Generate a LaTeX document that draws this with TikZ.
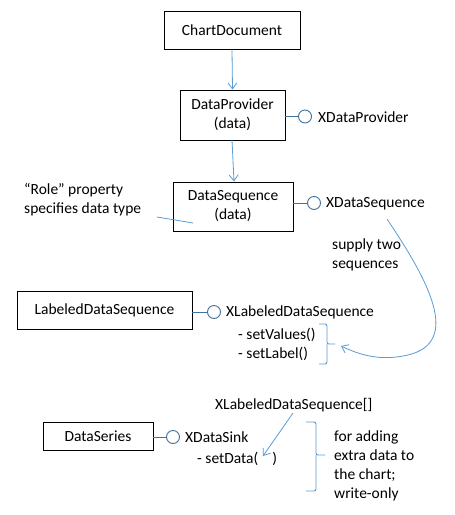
\documentclass[tikz,border=0pt]{standalone}
\usepackage{fontspec}
\setmainfont{Carlito}
\usetikzlibrary{arrows.meta}
\definecolor{lnblue}{HTML}{5B9BD5}
\definecolor{lolli}{HTML}{41719C}
\begin{document}
\begin{tikzpicture}[x=1pt,y=-1pt,
  every node/.style={font=\fontsize{15.5}{19}\selectfont},
  box/.style={draw=black,line width=0.9pt,align=center,inner sep=0pt},
  lbl/.style={anchor=west,inner sep=0pt,align=left},
  iface/.style={draw=lolli,line width=0.9pt,circle,minimum size=13pt,inner sep=0pt},
  stick/.style={draw=lolli,line width=0.9pt},
  arr/.style={draw=lnblue,line width=0.8pt,-{Straight Barb[length=6pt,width=9pt]}},
  thin/.style={draw=lnblue,line width=0.8pt},
  brc/.style={draw=lnblue,line width=0.9pt,rounded corners=2pt}]
\path[use as bounding box,fill=white] (0,0) rectangle (455,515);
% boxes
\node[box,minimum width=136pt,minimum height=38pt] (cd) at (232,30) {ChartDocument};
\node[box,minimum width=105pt,minimum height=50pt] (dp) at (232.5,115) {DataProvider\\(data)};
\node[box,minimum width=120pt,minimum height=49pt] (ds) at (233,206.5) {DataSequence\\(data)};
\node[box,minimum width=175pt,minimum height=38pt] (lds) at (104.5,310) {LabeledDataSequence};
\node[box,minimum width=110pt,minimum height=28pt] (ser) at (98,436) {DataSeries};
% arrows
\draw[arr] (cd.south) -- (dp.north);
\draw[arr] (232,140) coordinate (dpb) -- (234,181.5) coordinate (dst);
% lollipops
\node[iface] (i1) at (305,116.5) {};
\draw[stick] (dp.east |- i1) -- (i1);
\node[lbl] (l1) at (318,117) {XDataProvider};
\node[iface] (i2) at (314,203) {};
\draw[stick] (ds.east |- i2) -- (i2);
\node[lbl] (l2) at (326,204) {XDataSequence};
\node[iface] (i3) at (214,312) {};
\draw[stick] (lds.east |- i3) -- (i3);
\node[lbl] (l3) at (226,312.5) {XLabeledDataSequence};
\node[lbl] (m1) at (238,335) {- setValues()};
\node[lbl] (m2) at (238,354) {- setLabel()};
\node[iface] (i4) at (173,437) {};
\draw[stick] (ser.east |- i4) -- (i4);
\node[lbl] (l4) at (185,437.5) {XDataSink};
\node[lbl] (m3) at (197,459) {- setData(\hspace{14pt})};
% role note
\node[lbl] (role) at (24,200) {“Role” property\\specifies data type};
\coordinate (r1) at (157,217);
\coordinate (r2) at (193,223);
\draw[thin] (r1) -- (r2);
% supply two sequences
\node[lbl] (sup) at (332,254.5) {supply two\\sequences};
\coordinate (c1) at (387,219);
\coordinate (c2) at (341,346);
\draw[arr] (c1) .. controls (428,280) and (462,342) .. (408,355) .. controls (382,361) and (362,356) .. (c2);
% brace 1
\draw[brc] (319,324) -| (327,344) -- (335,344);
\draw[brc] (327,344) |- (319,364);
% XLabeledDataSequence[]
\node[lbl] (xarr) at (215,405) {XLabeledDataSequence[]};
\coordinate (a1) at (293,413);
\coordinate (a2) at (263,456);
\draw[arr] (a1) -- (a2);
% brace 2
\draw[brc] (306,422) -| (316,455) -- (325,455);
\draw[brc] (316,455) |- (306,491);
\node[lbl] (note) at (334,466) {for adding\\extra data to\\the chart;\\write-only};
\end{tikzpicture}
\end{document}
